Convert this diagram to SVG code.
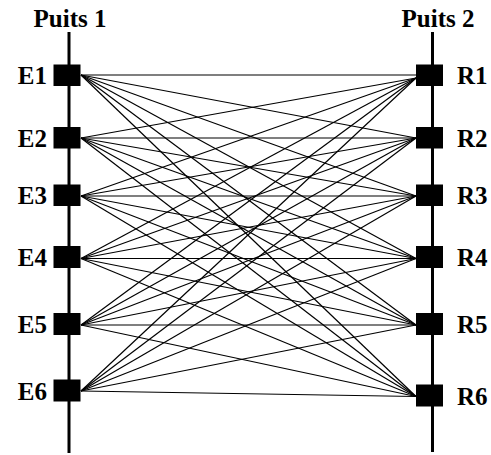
<svg xmlns="http://www.w3.org/2000/svg" width="491" height="455" viewBox="0 0 491 455">
<style>
.t{font-family:"Liberation Serif","Times New Roman",serif;font-weight:bold;font-size:25px;fill:#000}
.ax{stroke:#000;stroke-width:3}
.sq{fill:#000}
.c line{stroke:#000;stroke-width:1.2}
</style>
<rect width="491" height="455" fill="#fff"/>
<g id="puits1">
<line class="ax" x1="69" y1="32" x2="69" y2="453"/>
<text class="t" x="70" y="27" text-anchor="middle">Puits 1</text>
</g>
<g id="puits2">
<line class="ax" x1="432.5" y1="32" x2="432.5" y2="452"/>
<text class="t" x="438" y="27" text-anchor="middle">Puits 2</text>
</g>
<g id="connectors" class="c">
<line x1="81" y1="75" x2="416" y2="75"/><line x1="81" y1="75" x2="416" y2="138"/><line x1="81" y1="75" x2="416" y2="196"/><line x1="81" y1="75" x2="416" y2="258.5"/><line x1="81" y1="75" x2="416" y2="325"/><line x1="81" y1="75" x2="416" y2="396.5"/>
<line x1="81" y1="138" x2="416" y2="78"/><line x1="81" y1="138" x2="416" y2="138"/><line x1="81" y1="138" x2="416" y2="196"/><line x1="81" y1="138" x2="416" y2="258.5"/><line x1="81" y1="138" x2="416" y2="325"/><line x1="81" y1="138" x2="416" y2="396.5"/>
<line x1="81" y1="196" x2="416" y2="78"/><line x1="81" y1="196" x2="416" y2="138"/><line x1="81" y1="196" x2="416" y2="196"/><line x1="81" y1="196" x2="416" y2="258.5"/><line x1="81" y1="196" x2="416" y2="325"/><line x1="81" y1="196" x2="416" y2="396.5"/>
<line x1="81" y1="258.5" x2="416" y2="78"/><line x1="81" y1="258.5" x2="416" y2="138"/><line x1="81" y1="258.5" x2="416" y2="196"/><line x1="81" y1="258.5" x2="416" y2="258.5"/><line x1="81" y1="258.5" x2="416" y2="325"/><line x1="81" y1="258.5" x2="416" y2="396.5"/>
<line x1="81" y1="325" x2="416" y2="78"/><line x1="81" y1="325" x2="416" y2="138"/><line x1="81" y1="325" x2="416" y2="196"/><line x1="81" y1="325" x2="416" y2="258.5"/><line x1="81" y1="325" x2="416" y2="325"/><line x1="81" y1="325" x2="416" y2="396.5"/>
<line x1="81" y1="391" x2="416" y2="78"/><line x1="81" y1="391" x2="416" y2="138"/><line x1="81" y1="391" x2="416" y2="196"/><line x1="81" y1="391" x2="416" y2="258.5"/><line x1="81" y1="391" x2="416" y2="325"/><line x1="81" y1="391" x2="416" y2="396.5"/>
</g>
<g id="E1"><rect class="sq" x="53.5" y="64.5" width="27" height="21.5"/><text class="t" x="47" y="84" text-anchor="end">E1</text></g>
<g id="E2"><rect class="sq" x="53.5" y="127" width="27" height="21.5"/><text class="t" x="47" y="146.5" text-anchor="end">E2</text></g>
<g id="E3"><rect class="sq" x="53.5" y="184.5" width="27" height="21.5"/><text class="t" x="47" y="204" text-anchor="end">E3</text></g>
<g id="E4"><rect class="sq" x="53.5" y="246" width="27" height="22"/><text class="t" x="47" y="266" text-anchor="end">E4</text></g>
<g id="E5"><rect class="sq" x="53.5" y="313" width="27" height="22"/><text class="t" x="47" y="333" text-anchor="end">E5</text></g>
<g id="E6"><rect class="sq" x="53.5" y="379.5" width="27" height="22"/><text class="t" x="47" y="399.5" text-anchor="end">E6</text></g>
<g id="R1"><rect class="sq" x="416" y="64.5" width="27" height="21.5"/><text class="t" x="457" y="84">R1</text></g>
<g id="R2"><rect class="sq" x="416" y="127" width="27" height="21.5"/><text class="t" x="457" y="146.5">R2</text></g>
<g id="R3"><rect class="sq" x="416" y="184.5" width="27" height="21.5"/><text class="t" x="457" y="204">R3</text></g>
<g id="R4"><rect class="sq" x="416" y="246" width="27" height="22"/><text class="t" x="457" y="266">R4</text></g>
<g id="R5"><rect class="sq" x="416" y="313" width="27" height="22"/><text class="t" x="457" y="333">R5</text></g>
<g id="R6"><rect class="sq" x="416" y="384.5" width="27" height="22"/><text class="t" x="457" y="404.5">R6</text></g>
</svg>
